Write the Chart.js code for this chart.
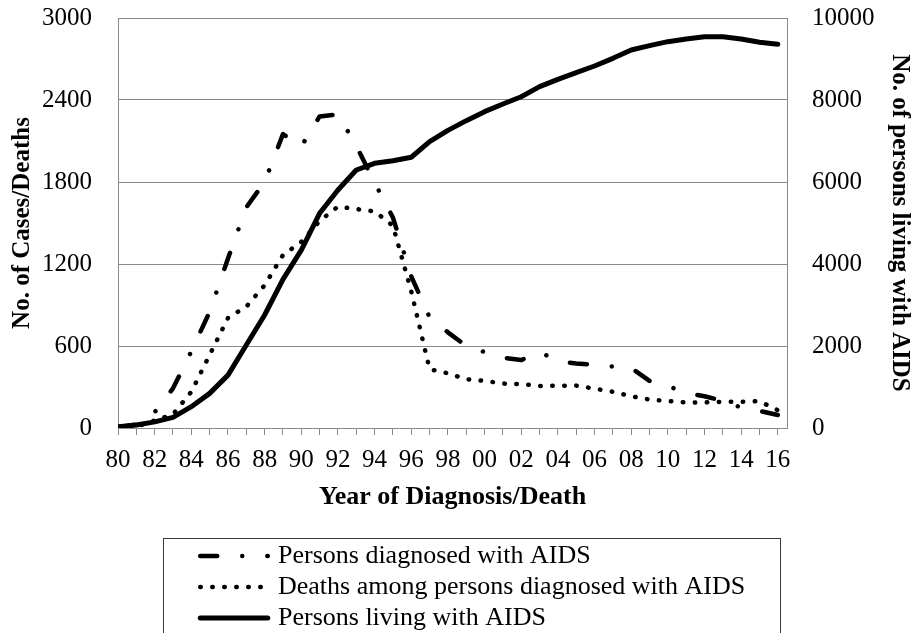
<!DOCTYPE html>
<html>
<head>
<meta charset="utf-8">
<script src="https://cdn.jsdelivr.net/npm/chart.js@4.4.1/dist/chart.umd.min.js"></script>
<style>
  html, body { margin: 0; padding: 0; background: #ffffff; }
  #wrap { width: 914px; height: 633px; position: relative; }
</style>
</head>
<body>
<div id="wrap"><canvas id="aidsChart"></canvas></div>
<script>
const years = [1980, 1981, 1982, 1983, 1984, 1985, 1986, 1987, 1988, 1989,
  1990, 1991, 1992, 1993, 1994, 1995, 1996, 1997, 1998, 1999,
  2000, 2001, 2002, 2003, 2004, 2005, 2006, 2007, 2008, 2009,
  2010, 2011, 2012, 2013, 2014, 2015, 2016]

const diagnosed = [5, 25, 115, 290, 560, 850, 1240, 1615, 1800, 2150,
  2060, 2280, 2295, 2065, 1795, 1540, 1110, 810, 700, 600,
  556, 515, 497, 556, 490, 472, 461, 450, 440, 345,
  307, 256, 232, 198, 150, 125, 95]

const deaths = [0, 10, 55, 100, 265, 535, 805, 888, 1045, 1265,
  1362, 1515, 1620, 1602, 1585, 1480, 1000, 430, 400, 357,
  345, 325, 322, 307, 310, 310, 288, 265, 232, 208,
  197, 187, 187, 192, 192, 196, 130]

const living = [30, 73, 150, 260, 520, 845, 1290, 2025, 2756, 3626,
  4340, 5236, 5805, 6293, 6456, 6520, 6603, 6983, 7260, 7496,
  7716, 7902, 8080, 8325, 8504, 8666, 8829, 9016, 9220, 9325,
  9423, 9488, 9545, 9545, 9488, 9407, 9358]

const leftTicks = [0, 600, 1200, 1800, 2400, 3000]
const rightTicks = [0, 2000, 4000, 6000, 8000, 10000]

const seriesLabels = [
  "Persons diagnosed with AIDS",
  "Deaths among persons diagnosed with AIDS",
  "Persons living with AIDS"
]

const serif = "'Liberation Serif', 'Times New Roman', serif"
const gridGray = "#8a8a8a"

const toPoints = values => years.map((yr, i) => ({ x: yr, y: values[i] }))

// keep the plot area where Excel put it, the labels may hang over
const noLabelPadding = scale => {
  scale.paddingTop = 0
  scale.paddingBottom = 0
}

// legend in a box under the axis, drawn with each dataset's own line style
const boxLegend = {
  id: "boxLegend",
  afterDraw(chart, args, opts) {
    const ctx = chart.ctx
    ctx.save()
    ctx.strokeStyle = "#3a3a3a"
    ctx.lineWidth = 1
    ctx.setLineDash([])
    ctx.strokeRect(opts.left + 0.5, opts.top + 0.5, opts.right - opts.left, 200)

    chart.data.datasets.forEach((ds, i) => {
      const y = opts.firstRow + i * opts.rowGap
      ctx.beginPath()
      ctx.setLineDash(ds.borderDash || [])
      ctx.lineCap = ds.borderCapStyle || "butt"
      ctx.lineWidth = ds.borderWidth
      ctx.strokeStyle = ds.borderColor
      ctx.moveTo(opts.lineStart, y)
      ctx.lineTo(opts.lineEnd, y)
      ctx.stroke()

      ctx.setLineDash([])
      ctx.fillStyle = "#000"
      ctx.font = opts.fontSize + "px " + serif
      ctx.textBaseline = "middle"
      ctx.textAlign = "left"
      ctx.fillText(ds.label, opts.textX, y)
    })
    ctx.restore()
  }
}

const config = {
  type: "line",
  data: {
    datasets: [
      {
        label: seriesLabels[0],
        data: toPoints(diagnosed),
        yAxisID: "y",
        borderColor: "#000",
        borderWidth: 4.5,
        borderDash: [17, 25, 0.01, 25],
        borderCapStyle: "round",
        borderJoinStyle: "round",
        pointRadius: 0,
        tension: 0
      },
      {
        label: seriesLabels[1],
        data: toPoints(deaths),
        yAxisID: "y",
        borderColor: "#000",
        borderWidth: 4.5,
        borderDash: [0.5, 11.5],
        borderCapStyle: "round",
        borderJoinStyle: "round",
        pointRadius: 0,
        tension: 0
      },
      {
        label: seriesLabels[2],
        data: toPoints(living),
        yAxisID: "y1",
        borderColor: "#000",
        borderWidth: 5,
        borderCapStyle: "round",
        borderJoinStyle: "round",
        pointRadius: 0,
        tension: 0
      }
    ]
  },
  options: {
    responsive: true,
    maintainAspectRatio: false,
    animation: false,
    layout: {
      padding: { top: 18, left: 0, right: 0, bottom: 120 }
    },
    scales: {
      x: {
        type: "linear",
        min: years[0],
        max: years[years.length - 1] + 0.5,
        afterBuildTicks: scale => {
          scale.ticks = years.map(v => ({ value: v }))
        },
        afterFit: scale => { scale.height = 85 },
        grid: {
          drawOnChartArea: false,
          drawTicks: true,
          tickLength: 7,
          color: gridGray
        },
        border: { display: true, color: gridGray, width: 1 },
        ticks: {
          autoSkip: false,
          maxRotation: 0,
          padding: 10,
          color: "#000",
          font: { family: serif, size: 25 },
          callback: v => (v % 2 === 0 ? String(v).slice(2) : "")
        },
        title: {
          display: true,
          text: "Year of Diagnosis/Death",
          color: "#000",
          padding: { top: 0, bottom: 0 },
          font: { family: serif, size: 26, weight: "bold" }
        }
      },
      y: {
        position: "left",
        min: leftTicks[0],
        max: leftTicks[leftTicks.length - 1],
        afterBuildTicks: scale => {
          scale.ticks = leftTicks.map(v => ({ value: v }))
        },
        afterFit: scale => {
          scale.width = 118
          noLabelPadding(scale)
        },
        grid: { color: gridGray, lineWidth: 1, drawTicks: false },
        border: { display: true, color: gridGray },
        ticks: {
          padding: 26,
          color: "#000",
          font: { family: serif, size: 25 },
          callback: v => String(v)
        },
        title: {
          display: true,
          text: "No. of Cases/Deaths",
          color: "#000",
          padding: { top: 8, bottom: 0 },
          font: { family: serif, size: 25, weight: "bold" }
        }
      },
      y1: {
        position: "right",
        min: rightTicks[0],
        max: rightTicks[rightTicks.length - 1],
        afterBuildTicks: scale => {
          scale.ticks = rightTicks.map(v => ({ value: v }))
        },
        afterFit: scale => {
          scale.width = 127
          noLabelPadding(scale)
        },
        grid: { drawOnChartArea: false, drawTicks: false },
        border: { display: true, color: gridGray },
        ticks: {
          padding: 25,
          color: "#000",
          font: { family: serif, size: 25 },
          callback: v => String(v)
        },
        title: {
          display: true,
          text: "No. of persons living with AIDS",
          color: "#000",
          padding: { top: 0, bottom: 0 },
          font: { family: serif, size: 25, weight: "bold" }
        }
      }
    },
    plugins: {
      legend: { display: false },
      tooltip: { enabled: false },
      boxLegend: {
        left: 163,
        right: 780,
        top: 538,
        firstRow: 556,
        rowGap: 31,
        lineStart: 200.25,
        lineEnd: 267.75,
        textX: 278,
        fontSize: 26
      }
    }
  },
  plugins: [boxLegend]
}

new Chart(document.getElementById("aidsChart"), config)
</script>
</body>
</html>
